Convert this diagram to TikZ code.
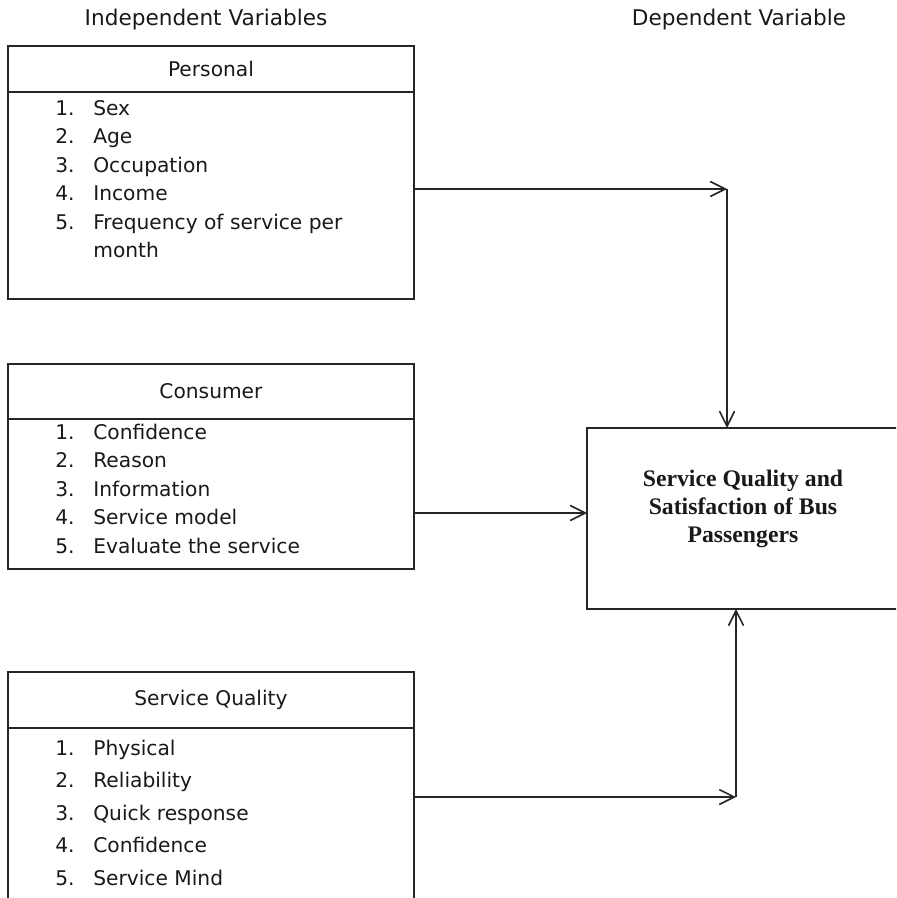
\documentclass[tikz,border=0pt]{standalone}
\usepackage{fontspec}
\setmainfont{DejaVu Sans}
\newfontfamily\titlefont{Liberation Serif}
\usetikzlibrary{arrows.meta, positioning, calc}

\begin{document}
\begin{tikzpicture}[
    x=0.02cm, y=-0.02cm,
    >={Straight Barb[length=0.3cm, width=0.3cm]},
    hdrbox/.style={draw=black!85, line width=1pt, minimum width=8.12cm,
                   anchor=north west, inner sep=0pt, outer sep=0pt,
                   text=black!90, font=\fontsize{11.5}{14}\selectfont},
    bodybox/.style={draw=black!85, line width=1pt, minimum width=8.12cm,
                    inner sep=0pt, outer sep=0pt},
    itemlist/.style={anchor=north west, inner sep=0pt, text=black!90},
    coltitle/.style={text=black!90, font=\fontsize{12.3}{14}\selectfont},
    dvbox/.style={draw=black!85, line width=1pt, anchor=north west,
                  minimum width=6.36cm, minimum height=3.62cm,
                  inner sep=0pt, outer sep=0pt},
    dvtext/.style={align=center, text=black!90,
                   font=\titlefont\fontsize{13.5}{16}\selectfont\bfseries},
    link/.style={->, draw=black!85, line width=0.9pt}
  ]
  \useasboundingbox (0,0) rectangle (896,898);
  \clip (0,0) rectangle (896,898);

  % column titles
  \node[coltitle] (indep) at (206,20) {Independent Variables};
  \node[coltitle] (dep) at (739,20) {Dependent Variable};

  % personal
  \node[hdrbox, minimum height=0.92cm] (phdr) at (8,46) {Personal};
  \node[bodybox, minimum height=4.14cm, below=0pt of phdr] (pbody) {};
  \node[itemlist, font=\fontsize{11.5}{16.2}\selectfont]
    (pitems) at ([xshift=0.94cm, yshift=-0.06cm]pbody.north west)
    {\begin{tabular}{@{}p{0.76cm}@{}l@{}}
      1. & Sex\\
      2. & Age\\
      3. & Occupation\\
      4. & Income\\
      5. & Frequency of service per\\
         & month
    \end{tabular}};

  % consumer
  \node[hdrbox, minimum height=1.1cm] (chdr) at (8,364) {Consumer};
  \node[bodybox, minimum height=3cm, below=0pt of chdr] (cbody) {};
  \node[itemlist, font=\fontsize{11.5}{16.2}\selectfont]
    (citems) at ([xshift=0.94cm]cbody.north west)
    {\begin{tabular}{@{}p{0.76cm}@{}l@{}}
      1. & Confidence\\
      2. & Reason\\
      3. & Information\\
      4. & Service model\\
      5. & Evaluate the service
    \end{tabular}};

  % service quality
  \node[hdrbox, minimum height=1.12cm] (sqhdr) at (8,672) {Service Quality};
  \node[bodybox, minimum height=3.8cm, below=0pt of sqhdr] (sqbody) {};
  \node[itemlist, font=\fontsize{11.5}{18.5}\selectfont]
    (sqitems) at ([xshift=0.94cm, yshift=-0.08cm]sqbody.north west)
    {\begin{tabular}{@{}p{0.76cm}@{}l@{}}
      1. & Physical\\
      2. & Reliability\\
      3. & Quick response\\
      4. & Confidence\\
      5. & Service Mind
    \end{tabular}};

  % dependent variable
  \node[dvbox] (dv) at (587,428) {};
  \node[dvtext] (dvlabel) at ([xshift=-0.06cm, yshift=0.19cm]dv.center)
    {Service Quality and\\ Satisfaction of Bus\\ Passengers};

  \coordinate (ptop) at (727,189);
  \coordinate (cmid) at (500,513);
  \coordinate (sqbot) at (736,797);

  \draw[link] (pbody.east |- ptop) -- (ptop);
  \draw[link] (ptop) -- (ptop |- dv.north);
  \draw[link] (cbody.east |- cmid) -- (dv.west |- cmid);
  \draw[link] (sqbody.east |- sqbot) -- (sqbot);
  \draw[link] (sqbot) -- (sqbot |- dv.south);
\end{tikzpicture}
\end{document}
